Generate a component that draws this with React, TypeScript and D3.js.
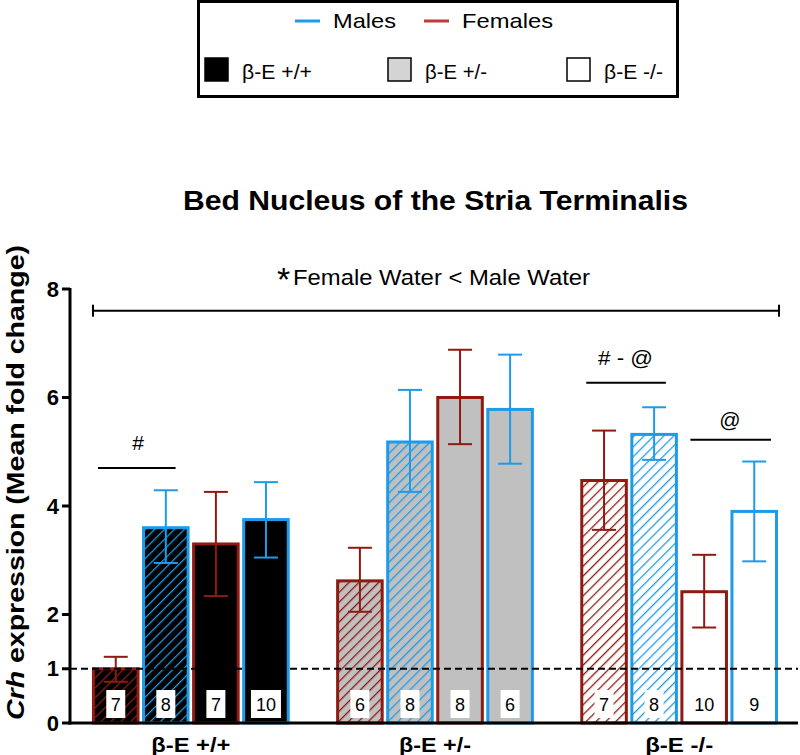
import React from "react";
import * as d3 from "d3";

const groups = ["β-E +/+", "β-E +/-", "β-E -/-"];
const barKeys = ["femaleHatched", "maleHatched", "femaleSolid", "maleSolid"];
const barSex = ["F", "M", "F", "M"];
const barHatched = [true, true, false, false];
const means = [
  [1.0, 3.6, 3.3, 3.75],
  [2.62, 5.18, 6.0, 5.78],
  [4.47, 5.32, 2.42, 3.9],
];
const errLow = [
  [0.76, 2.95, 2.34, 3.05],
  [2.05, 4.26, 5.14, 4.78],
  [3.56, 4.85, 1.76, 2.98],
];
const errHigh = [
  [1.22, 4.29, 4.26, 4.44],
  [3.23, 6.14, 6.88, 6.79],
  [5.39, 5.82, 3.1, 4.82],
];
const counts = [
  [7, 8, 7, 10],
  [6, 8, 8, 6],
  [7, 8, 10, 9],
];
const yTicks = [0, 1, 2, 4, 6, 8];
const legendSexes = ["Males", "Females"];

const BLUE = "#1e9be8";
const RED = "#8e1a12";
const LEG_RED = "#c0393b";
const groupFill = ["#000000", "#c0c0c0", "#ffffff"];
const legendFill = ["#000000", "#d4d4d4", "#ffffff"];
const FONT = "'Liberation Sans', Arial, Helvetica, sans-serif";

export default function App() {
  const W = 800, H = 755;
  const x = d3.scaleBand().domain(groups).range([70, 800]).paddingInner(0.19).paddingOuter(0.09);
  const xi = d3.scaleBand().domain(barKeys).range([0, x.bandwidth()]).paddingInner(0.05);
  const y = d3.scaleLinear().domain([0, 8]).range([723, 289]);
  const col = (s: string) => (s === "F" ? RED : BLUE);

  const g0 = x(groups[0])!;
  const g2 = x(groups[2])!;
  const bx = (gi: number, bi: number) => x(groups[gi])! + xi(barKeys[bi])!;
  const legSexLen = [63, 91];
  const legGenoLen = [70, 62, 59];
  const xLabLen = [79, 72, 68];

  return (
    <svg width={W} height={H} style={{ position: "absolute", left: 0, top: 0, background: "#fff" }} fontFamily={FONT}>
      <defs>
        {groups.map((g, gi) =>
          ["F", "M"].map((s) => (
            <pattern key={gi + s} id={`h${gi}${s}`} patternUnits="userSpaceOnUse" width={7} height={7} patternTransform="rotate(45)">
              <rect width={7} height={7} fill={groupFill[gi]} />
              <line x1={0} y1={0} x2={0} y2={7} stroke={col(s)} strokeWidth={2.6} />
            </pattern>
          ))
        )}
      </defs>

      {/* Legend */}
      <rect x={198.5} y={1.5} width={479} height={95} fill="#fff" stroke="#000" strokeWidth={3} />
      {legendSexes.map((s, i) => {
        const lx = i === 0 ? 295 : 424;
        return (
          <g key={s}>
            <line x1={lx} x2={lx + 25} y1={21} y2={21} stroke={i === 0 ? BLUE : LEG_RED} strokeWidth={3} />
            <text x={lx + 38} y={28} fontSize={21} textLength={legSexLen[i]} lengthAdjust="spacingAndGlyphs">{s}</text>
          </g>
        );
      })}
      {groups.map((g, i) => {
        const sx = [205, 388, 567][i];
        return (
          <g key={g}>
            <rect x={sx} y={58} width={23} height={23} fill={legendFill[i]} stroke="#000" strokeWidth={1.5} />
            <text x={sx + 37} y={79} fontSize={20} textLength={legGenoLen[i]} lengthAdjust="spacingAndGlyphs">{g}</text>
          </g>
        );
      })}

      {/* Title */}
      <text x={183} y={210} fontSize={28} fontWeight="bold" textLength={505} lengthAdjust="spacingAndGlyphs">Bed Nucleus of the Stria Terminalis</text>

      {/* Bars */}
      {groups.map((g, gi) =>
        barKeys.map((k, bi) => {
          const s = barSex[bi];
          const x0 = bx(gi, bi);
          const w = xi.bandwidth();
          const fill = barHatched[bi] ? `url(#h${gi}${s})` : groupFill[gi];
          return (
            <rect key={g + k} x={x0 + 1.5} y={y(means[gi][bi])} width={w - 3} height={y(0) - y(means[gi][bi])}
              fill={fill} stroke={col(s)} strokeWidth={3} />
          );
        })
      )}

      {/* Error bars */}
      {groups.map((g, gi) =>
        barKeys.map((k, bi) => {
          const cx = bx(gi, bi) + xi.bandwidth() / 2;
          const c = col(barSex[bi]);
          const lo = y(errLow[gi][bi]);
          const hi = y(errHigh[gi][bi]);
          return (
            <g key={"e" + g + k} stroke={c} strokeWidth={2}>
              <line x1={cx} x2={cx} y1={lo} y2={hi} />
              <line x1={cx - 12} x2={cx + 12} y1={hi} y2={hi} />
              <line x1={cx - 12} x2={cx + 12} y1={lo} y2={lo} />
            </g>
          );
        })
      )}

      {/* n boxes */}
      {groups.map((g, gi) =>
        barKeys.map((k, bi) => {
          const cx = bx(gi, bi) + xi.bandwidth() / 2;
          const label = String(counts[gi][bi]);
          const bw = label.length > 1 ? 30 : 19;
          return (
            <g key={"n" + g + k}>
              <rect x={cx - bw / 2} y={690} width={bw} height={28} fill="#fff" />
              <text x={cx} y={711} textAnchor="middle" fontSize={18}>{label}</text>
            </g>
          );
        })
      )}

      {/* Dashed line at 1 */}
      <line x1={70} x2={798} y1={y(1)} y2={y(1)} stroke="#000" strokeWidth={1.8} strokeDasharray="7,4" />

      {/* Axes */}
      <line x1={70} x2={70} y1={y(8) - 1} y2={y(0) + 1.5} stroke="#000" strokeWidth={3} />
      <line x1={68.5} x2={798} y1={y(0)} y2={y(0)} stroke="#000" strokeWidth={3} />
      {yTicks.map((t) => (
        <g key={t}>
          <line x1={62} x2={70} y1={y(t)} y2={y(t)} stroke="#000" strokeWidth={3} />
          <text x={59} y={y(t) + 7.5} textAnchor="end" fontSize={22} fontWeight="bold">{t}</text>
        </g>
      ))}
      {groups.map((g, i) => (
        <text key={"xl" + g} x={x(g)! + x.bandwidth() / 2 - xLabLen[i] / 2} y={752} fontSize={21} fontWeight="bold"
          textLength={xLabLen[i]} lengthAdjust="spacingAndGlyphs">{g}</text>
      ))}
      <text transform={`translate(24,720) rotate(-90)`} fontSize={24} fontWeight="bold" textLength={475} lengthAdjust="spacingAndGlyphs">
        <tspan fontStyle="italic">Crh</tspan> expression (Mean fold change)
      </text>

      {/* Annotations */}
      <g stroke="#000" strokeWidth={2}>
        <line x1={g0 + 1} x2={g2 + x.bandwidth() + 1} y1={y(7.6)} y2={y(7.6)} />
        <line x1={g0 + 1} x2={g0 + 1} y1={y(7.6) - 6} y2={y(7.6) + 6} />
        <line x1={g2 + x.bandwidth() + 1} x2={g2 + x.bandwidth() + 1} y1={y(7.6) - 6} y2={y(7.6) + 6} />
        <line x1={bx(0, 0) + 6} x2={bx(0, 1) + xi.bandwidth() - 14} y1={y(4.7)} y2={y(4.7)} />
        <line x1={bx(2, 0) + 6} x2={bx(2, 1) + xi.bandwidth() - 12} y1={y(6.27)} y2={y(6.27)} />
        <line x1={bx(2, 2) + 10} x2={bx(2, 3) + xi.bandwidth() - 7} y1={y(5.22)} y2={y(5.22)} />
      </g>
      <text x={277} y={291} fontSize={34}>*</text>
      <text x={293} y={285} fontSize={22} textLength={297} lengthAdjust="spacingAndGlyphs">Female Water &lt; Male Water</text>
      <text x={138} y={450} textAnchor="middle" fontSize={21}>#</text>
      <text x={598} y={365} fontSize={21} textLength={55} lengthAdjust="spacingAndGlyphs"># - @</text>
      <text x={730} y={427} textAnchor="middle" fontSize={21}>@</text>
    </svg>
  );
}
